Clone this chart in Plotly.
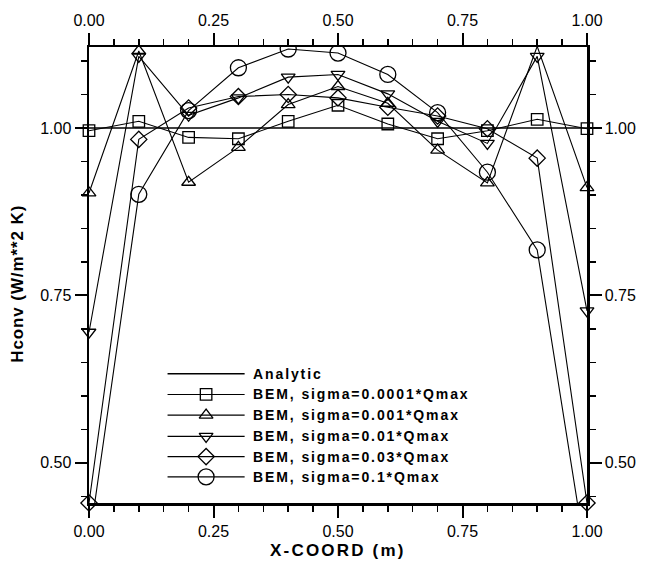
import plotly.graph_objects as go

# ---------------- data ----------------
x_coord = [0.0, 0.1, 0.2, 0.3, 0.4, 0.5, 0.6, 0.7, 0.8, 0.9, 1.0]
analytic = [1.0, 1.0, 1.0, 1.0, 1.0, 1.0, 1.0, 1.0, 1.0, 1.0, 1.0]
sig_0001 = [0.996, 1.010, 0.986, 0.984, 1.010, 1.034, 1.006, 0.984, 0.996, 1.013, 0.999]
sig_001 = [0.903, 1.115, 0.919, 0.971, 1.035, 1.062, 1.037, 0.967, 0.918, 1.122, 0.911]
sig_01 = [0.695, 1.107, 1.019, 1.045, 1.076, 1.080, 1.051, 1.010, 0.977, 1.107, 0.727]
sig_03 = [0.44, 0.983, 1.030, 1.047, 1.050, 1.045, 1.031, 1.018, 0.999, 0.955, 0.44]
sig_1 = [0.38, 0.901, 1.026, 1.090, 1.118, 1.112, 1.080, 1.023, 0.934, 0.818, 0.35]

series_names = ["Analytic",
                "BEM, sigma=0.0001*Qmax",
                "BEM, sigma=0.001*Qmax",
                "BEM, sigma=0.01*Qmax",
                "BEM, sigma=0.03*Qmax",
                "BEM, sigma=0.1*Qmax"]
series_values = [analytic, sig_0001, sig_001, sig_01, sig_03, sig_1]
x_ticks = [0.0, 0.25, 0.5, 0.75, 1.0]
y_ticks = [0.5, 0.75, 1.0]
x_title = "X-COORD (m)"
y_title = "Hconv (W/m**2 K)"

# ---------------- styles ----------------
symbols = [None, "square-open", "triangle-up-open", "triangle-down-open",
           "diamond-open", "circle-open"]
msizes = [0, 11.5, 12, 12, 12.5, 16]
clip = [True, False, False, False, False, True]

W, H = 648, 562
L, R, T, B = 89, 593, 41, 503
X_RANGE = [0.0, 1.0]
Y_RANGE = [0.44, 1.121]

FONT = "Liberation Sans, Arial, Helvetica, sans-serif"


def px_x(p):
    return (p - L) / (R - L)


def px_y(p):
    return (B - p) / (B - T)


fig = go.Figure()

for name, vals, sym, ms, cl in zip(series_names, series_values, symbols, msizes, clip):
    if sym is None:
        fig.add_trace(go.Scatter(x=x_coord, y=vals, mode="lines", name=name,
                                 line=dict(color="black", width=1.4),
                                 showlegend=False))
    else:
        fig.add_trace(go.Scatter(x=x_coord, y=vals, mode="lines+markers", name=name,
                                 line=dict(color="black", width=1.1),
                                 marker=dict(symbol=sym, size=ms, color="black",
                                             line=dict(color="black", width=1.3)),
                                 cliponaxis=cl, showlegend=False))

# mirrored axes (top / right)
fig.add_trace(go.Scatter(x=[], y=[], xaxis="x2", yaxis="y2", showlegend=False))

# ---------------- manual legend (pixel-based overlay axes) ----------------
leg_rows = [372, 393, 414, 435.5, 456, 476.5]
leg_x0, leg_xm, leg_x1, leg_tx = 168.5, 207.5, 246.5, 253
for name, sym, ms, ry in zip(series_names, symbols, msizes, leg_rows):
    fig.add_trace(go.Scatter(x=[leg_x0, leg_x1], y=[ry, ry], mode="lines",
                             xaxis="x3", yaxis="y3", showlegend=False,
                             line=dict(color="black", width=1.1 if sym else 1.4)))
    if sym:
        fig.add_trace(go.Scatter(x=[leg_xm], y=[ry], mode="markers",
                                 xaxis="x3", yaxis="y3", showlegend=False,
                                 marker=dict(symbol=sym, size=ms, color="black",
                                             line=dict(color="black", width=1.3))))
    fig.add_annotation(xref="x3", yref="y3", x=leg_tx, y=ry, xanchor="left",
                       yanchor="middle", showarrow=False,
                       text='<span style="letter-spacing:1.9px">' + name + '</span>',
                       font=dict(family=FONT, size=14, color="black", weight="bold"))

# axis titles
fig.add_annotation(xref="paper", yref="paper", x=px_x(341), y=px_y(551),
                   xanchor="center", yanchor="middle", showarrow=False,
                   borderpad=0,
                   text='<span style="letter-spacing:2.2px">' + x_title + '</span>',
                   font=dict(family=FONT, size=17, color="black", weight="bold"))
fig.add_annotation(xref="paper", yref="paper", x=px_x(17), y=px_y(281),
                   xanchor="center", yanchor="middle", showarrow=False, textangle=-90,
                   text='<span style="letter-spacing:0.9px">' + y_title + '</span>',
                   font=dict(family=FONT, size=17, color="black", weight="bold"))

tickfont = dict(family=FONT, size=16, color="black")
common_x = dict(range=X_RANGE, tickvals=x_ticks, tickformat=".2f", ticks="outside",
                ticklen=12, tickwidth=2, tickcolor="black", showline=True,
                linewidth=2.5, linecolor="black", showgrid=False, zeroline=False,
                tickfont=tickfont,
                minor=dict(dtick=0.05, tick0=0, ticks="outside", ticklen=6,
                           tickwidth=1.5, tickcolor="black", showgrid=False))
common_y = dict(range=Y_RANGE, tickvals=y_ticks, tickformat=".2f", ticks="outside",
                ticklen=12, tickwidth=2, tickcolor="black", showline=True,
                linewidth=2.5, linecolor="black", showgrid=False, zeroline=False,
                tickfont=tickfont,
                minor=dict(dtick=0.05, tick0=0, ticks="outside", ticklen=6,
                           tickwidth=1.5, tickcolor="black", showgrid=False))

fig.update_layout(
    width=W, height=H,
    margin=dict(l=L, r=W - R, t=T, b=H - B, pad=0),
    paper_bgcolor="white", plot_bgcolor="white",
    showlegend=False,
    xaxis=dict(**common_x, side="bottom", anchor="y"),
    yaxis=dict(**common_y, side="left", anchor="x"),
    xaxis2=dict(**common_x, side="top", overlaying="x", anchor="y"),
    yaxis2=dict(**common_y, side="right", overlaying="y", anchor="x"),
    xaxis3=dict(range=[L, R], overlaying="x", visible=False, anchor="y3"),
    yaxis3=dict(range=[B, T], overlaying="y", visible=False, anchor="x3"),
)

fig.write_html("out.html",
               config={"displayModeBar": False, "staticPlot": True},
               post_script="document.body.style.margin='0';"
                           "document.body.style.padding='0';"
                           "document.body.style.overflow='hidden';")
